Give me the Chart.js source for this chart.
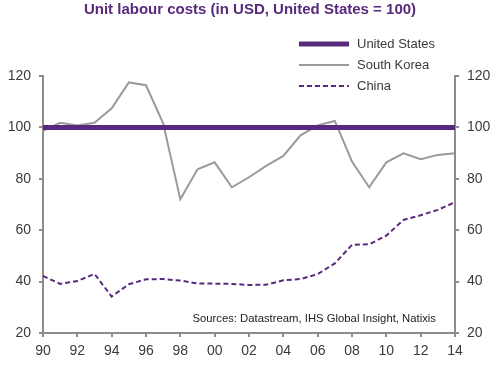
<!DOCTYPE html>
<html>
<head>
<meta charset="utf-8">
<script src="https://cdn.jsdelivr.net/npm/chart.js@4.4.0/dist/chart.umd.min.js"></script>
<style>
  html, body { margin: 0; padding: 0; background: #fff; }
  #wrap { width: 500px; height: 369px; }
</style>
</head>
<body>
<div id="wrap"><canvas id="myChart" width="500" height="369"></canvas></div>
<script>
"use strict";

const years = ["90", "91", "92", "93", "94", "95", "96", "97", "98", "99", "00", "01", "02",
  "03", "04", "05", "06", "07", "08", "09", "10", "11", "12", "13", "14"];
const unitedStates = years.map(() => 100);
const southKorea = [98.7, 101.8, 100.7, 101.8, 107.4, 117.5, 116.4, 101.6, 72, 83.7, 86.4, 76.7, 80.6,
  85, 88.9, 96.9, 100.8, 102.5, 86.7, 76.7, 86.4, 89.9, 87.6, 89.3, 89.9];
const china = [42.2, 39.1, 40.2, 43, 34.2, 39, 40.9, 41, 40.4, 39.3, 39.2, 39.1, 38.7,
  38.8, 40.5, 41, 42.9, 47.1, 54.3, 54.5, 57.9, 64, 65.8, 67.9, 70.9];
const yTicks = [20, 40, 60, 80, 100, 120];

const purple = "#582a7e";
const axisGrey = "#8c8c8c";
const textColor = "#3a3a3a";
const font = "'Liberation Sans', Arial, sans-serif";

const yAxis = (pos, width) => ({
  position: pos,
  min: 20,
  max: 120,
  afterBuildTicks: (scale) => {
    scale.ticks = yTicks.map((v) => ({ value: v }));
  },
  afterFit: (scale) => {
    scale.width = width;
  },
  grid: { drawOnChartArea: false, color: axisGrey, tickLength: 4, lineWidth: 2 },
  border: { color: axisGrey, width: 2 },
  ticks: { color: textColor, font: { size: 14, family: font }, padding: 8 },
});

// legend + sources drawn by hand, to keep the boxed layout of the original
const extras = {
  id: "extras",
  afterDraw: (chart) => {
    const { ctx } = chart;
    ctx.save();
    const rows = [44, 65, 86];
    chart.data.datasets.forEach((ds, i) => {
      const y = rows[i];
      ctx.beginPath();
      ctx.strokeStyle = ds.borderColor;
      ctx.lineWidth = ds.borderWidth;
      ctx.setLineDash(ds.borderDash || []);
      ctx.moveTo(299, y);
      ctx.lineTo(349, y);
      ctx.stroke();
      ctx.setLineDash([]);
      ctx.fillStyle = textColor;
      ctx.font = `13px ${font}`;
      ctx.textBaseline = "middle";
      ctx.textAlign = "left";
      ctx.fillText(ds.label, 357, y);
    });
    ctx.font = `11.3px ${font}`;
    ctx.textAlign = "right";
    ctx.fillStyle = "#222";
    ctx.fillText("Sources: Datastream, IHS Global Insight, Natixis", 436, 319);
    ctx.restore();
  },
};

new Chart(document.getElementById("myChart").getContext("2d"), {
  type: "line",
  data: {
    labels: years,
    datasets: [
      {
        label: "United States",
        data: unitedStates,
        borderColor: purple,
        borderWidth: 5,
        pointRadius: 0,
        yAxisID: "y",
        order: 0,
      },
      {
        label: "South Korea",
        data: southKorea,
        borderColor: "#9a9a9a",
        borderWidth: 2,
        pointRadius: 0,
        yAxisID: "y",
        order: 1,
      },
      {
        label: "China",
        data: china,
        borderColor: purple,
        borderWidth: 2,
        borderDash: [5, 3],
        pointRadius: 0,
        yAxisID: "y",
        order: 2,
      },
    ],
  },
  options: {
    responsive: false,
    animation: false,
    layout: { padding: 0 },
    plugins: {
      legend: { display: false },
      tooltip: { enabled: false },
      title: {
        display: true,
        text: "Unit labour costs (in USD, United States = 100)",
        color: purple,
        font: { size: 15, weight: "bold", family: font },
        padding: { top: 1, bottom: 57 },
      },
    },
    scales: {
      x: {
        offset: false,
        afterFit: (scale) => {
          scale.height = 36;
        },
        grid: {
          drawOnChartArea: false,
          tickLength: 4,
          lineWidth: 2,
          tickColor: (c) => (c.index % 2 === 0 ? axisGrey : "rgba(0,0,0,0)"),
        },
        border: { color: axisGrey, width: 2 },
        ticks: {
          autoSkip: false,
          maxRotation: 0,
          color: textColor,
          font: { size: 14, family: font },
          padding: 6,
          callback: (v, i) => (i % 2 === 0 ? years[i] : ""),
        },
      },
      y: yAxis("left", 43),
      y2: yAxis("right", 45),
    },
  },
  plugins: [extras],
});
</script>
</body>
</html>
